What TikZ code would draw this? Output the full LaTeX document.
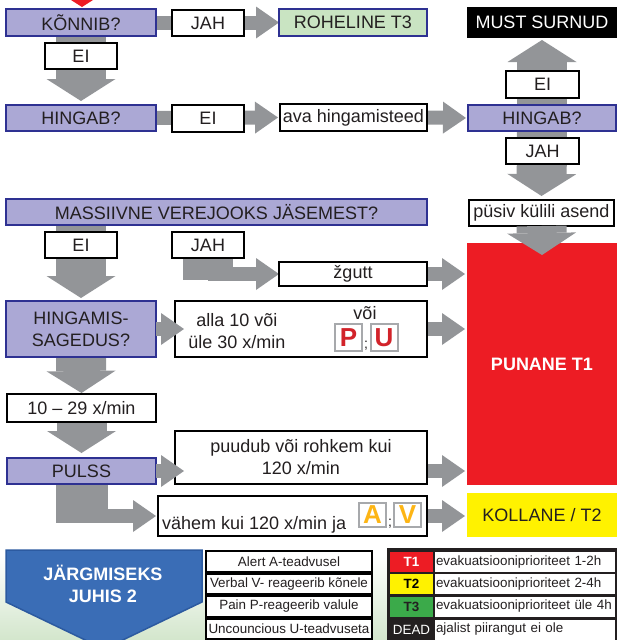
\documentclass[tikz,border=0pt]{standalone}
\usepackage{fontspec}
\setmainfont{Liberation Sans}
\usetikzlibrary{arrows.meta,calc}
\definecolor{lav}{HTML}{ABA8D5}
\definecolor{navy}{HTML}{2E3192}
\definecolor{agray}{HTML}{939598}
\definecolor{txt}{HTML}{231F20}
\definecolor{tred}{HTML}{ED1C24}
\definecolor{tyel}{HTML}{FFF200}
\definecolor{lgreen}{HTML}{C9E4C2}
\definecolor{tgreen}{HTML}{3BAA4A}
\definecolor{pblue}{HTML}{3A6DB6}
\definecolor{pborder}{HTML}{2C5AA0}
\definecolor{bggreen}{HTML}{D3E6CC}
\definecolor{letred}{HTML}{D2232A}
\definecolor{letorg}{HTML}{FDB515}
\definecolor{lgray}{HTML}{A7A9AC}
\pgfdeclarelayer{bg}
\pgfsetlayers{bg,main}
\begin{document}
\begin{tikzpicture}[x=1pt,y=-1pt,
 every node/.style={inner sep=0pt, outer sep=0pt, text=txt, font=\fontsize{18}{22}\selectfont},
 sz/.style 2 args={minimum width=#1pt, minimum height=#2pt},
 qbox/.style={draw=navy, fill=lav, line width=2pt},
 wbox/.style={draw=black, fill=white, line width=2pt},
 letbox/.style={draw=lgray, fill=white, line width=2pt, font=\fontsize{26}{26}\selectfont\bfseries},
 tcell/.style={draw=black, fill=white, line width=2pt, minimum width=166pt, minimum height=20.5pt, font=\fontsize{13.4}{15}\selectfont},
 ccell/.style={minimum width=43pt, minimum height=20pt, font=\fontsize{13.4}{15}\selectfont\bfseries},
 rcell/.style={fill=white, minimum height=20pt, text width=178pt, inner xsep=1pt, align=left, font=\fontsize{13.4}{15}\selectfont},
 harrow/.style={draw=agray, line width=14pt, -{Triangle[width=32pt,length=23pt,line width=0pt]}},
 varrow/.style={draw=agray, line width=50pt, -{Triangle[width=69pt,length=22pt,line width=0pt]}}
]
\useasboundingbox (0,0) rectangle (617,640);

% bottom background
\shade[top color=white, bottom color=bggreen] (0,555) rectangle (617,640);

% top incoming arrow tip
\fill[tred] (71,0) -- (93,0) -- (82,7) -- cycle;

% nodes
\node[qbox, sz={150}{27}] (konnib) at (81,22.5) {KÕNNIB?};
\node[wbox, sz={72}{26}] (jah1) at (208,23) {JAH};
\node[draw=navy, fill=lgreen, line width=2pt, sz={148}{27}] (roheline) at (353,22.5) {ROHELINE T3};
\node[fill=black, text=white, sz={150}{31}] (must) at (542,22.5) {MUST SURNUD};
\node[wbox, sz={72}{26}] (ei1) at (81,56) {EI};
\node[qbox, sz={150}{26}] (hingab) at (81,118) {HINGAB?};
\node[wbox, sz={72}{27}] (ei2) at (208,118) {EI};
\node[wbox, sz={147}{27}] (ava) at (353.5,117.5) {ava hingamisteed};
\node[qbox, sz={148}{26}] (hingabR) at (542,118) {HINGAB?};
\node[wbox, sz={73}{27}] (eiR) at (542.5,84.5) {EI};
\node[wbox, sz={73}{26}] (jahR) at (542.5,151) {JAH};
\node[wbox, sz={145}{26}] (pusiv) at (541.5,213) {püsiv külili asend};
\node[qbox, sz={421}{26}] (mass) at (216.5,212) {MASSIIVNE VEREJOOKS JÄSEMEST?};
\node[wbox, sz={72}{26}] (ei3) at (81,245) {EI};
\node[wbox, sz={72}{26}] (jah3) at (208,245) {JAH};
\node[wbox, sz={148}{24}] (zgutt) at (353,274) {žgutt};
\node[fill=tred, text=white, font=\fontsize{18}{22}\selectfont\bfseries, sz={150}{242}] (punane) at (542,364) {PUNANE T1};
\node[qbox, sz={150}{56}, align=center] (sag) at (81,329) {HINGAMIS-\\SAGEDUS?};
\node[wbox, sz={252}{56}] (alla) at (301,329) {};
\node[align=center] (allat) at (237,331) {alla 10 või\\üle 30 x/min};
\node (voi) at (365,313) {või};
\node[letbox, text=letred, sz={27}{27}] (P) at (348.5,337.5) {P};
\node[font=\fontsize{14}{14}\selectfont] (semi1) at (366,346) {;};
\node[letbox, text=letred, sz={27}{27}] (U) at (384,337.5) {U};
\node[wbox, sz={149}{28}] (range) at (81.5,408) {10 – 29 x/min};
\node[qbox, sz={149}{26}] (pulss) at (81.5,471) {PULSS};
\node[wbox, sz={252}{53}, align=center] (puudub) at (301,457.5) {puudub või rohkem kui\\120 x/min};
\node[wbox, sz={269}{40}] (vahem) at (292.5,516) {};
\node[anchor=base west] (vahemt) at (162,529) {vähem kui 120 x/min ja};
\node[letbox, text=letorg, sz={27}{24}] (A) at (372.5,515) {A};
\node[font=\fontsize{14}{14}\selectfont] (semi2) at (390,524) {;};
\node[letbox, text=letorg, sz={27}{24}] (V) at (407.5,515) {V};
\node[fill=tyel, sz={150}{44}] (kollane) at (542,515) {KOLLANE / T2};

% bottom: next instruction
\path[fill=pblue, draw=pborder, line width=1.5pt] (6,550) -- (202,550) -- (202,602) -- (104,649) -- (6,602) -- cycle;
\node[text=white, font=\fontsize{18}{22}\selectfont\bfseries, align=center] (juhis) at (103,584) {JÄRGMISEKS\\JUHIS 2};

% AVPU table
\node[tcell] (a1) at (289,561.25) {Alert A-teadvusel};
\node[tcell] (a2) at (289,583.75) {Verbal V- reageerib kõnele};
\node[tcell] (a3) at (289,606.25) {Pain P-reageerib valule};
\node[tcell] (a4) at (289,628.75) {Uncouncious U-teadvuseta};

% priority table
\node[fill=txt, anchor=north west, minimum width=230pt, minimum height=92pt] (tab2) at (387,548) {};
\node[ccell, fill=tred, text=white] (t1) at (411.5,562) {T1};
\node[ccell, fill=tyel, text=black] (t2) at (411.5,584) {T2};
\node[ccell, fill=tgreen, text=txt] (t3) at (411.5,606.5) {T3};
\node[ccell, fill=txt, text=white, font=\fontsize{13.4}{15}\selectfont] (t4) at (411.5,629.5) {DEAD};
\node[rcell] (r1) at (525,562) {evakuatsiooniprioriteet 1-2h};
\node[rcell] (r2) at (525,584) {evakuatsiooniprioriteet 2-4h};
\node[rcell] (r3) at (525,606.5) {evakuatsiooniprioriteet üle 4h};
\node[rcell] (r4) at (525,629.5) {ajalist piirangut ei ole};

% connectors behind boxes
\begin{pgfonlayer}{bg}
\draw[harrow] (konnib.east) -- (roheline.west);
\draw[varrow, shorten >=4pt] (konnib.south) -- (hingab.north);
\draw[harrow, shorten >=2pt] (hingab.east) -- (ava.west);
\draw[harrow, shorten >=2pt] (ava.east) -- (hingabR.west);
\draw[varrow, shorten >=2pt] (hingabR.north) -- (must.south);
\draw[varrow, shorten >=4pt] (hingabR.south) -- (pusiv.north);
\draw[varrow, shorten >=3pt] (ei3 |- mass.south) -- (sag.north);
\fill[agray] (jah3.south) +(-25,0) rectangle +(25,22);
\draw[harrow] (jah3.south |- zgutt.west) -- (zgutt.west);
\draw[harrow, shorten >=2pt] (zgutt.east) -- (zgutt.east -| punane.west);
\draw[harrow, shorten >=2pt] (alla.east) -- (alla.east -| punane.west);
\draw[varrow, shorten >=1pt] (sag.south) -- (range.north);
\draw[varrow, shorten >=5pt] (range.south) -- (pulss.north);
\draw[harrow, shorten >=2pt] (pulss.east -| puudub.east) -- (pulss.east -| punane.west);
\fill[agray] (pulss.south) +(-26,0) rectangle +(26,39);
\draw[harrow] (pulss.south |- vahem.west) -- ([xshift=-2pt]vahem.west);
\draw[harrow, shorten >=2pt] (vahem.east) -- (vahem.east -| kollane.west);
\end{pgfonlayer}

% connectors whose heads overlap boxes
\draw[varrow] (pusiv.south) -- ([yshift=-12pt]punane.north);
\draw[harrow] (sag.east) -- ([xshift=9pt]alla.west);
\draw[harrow] (pulss.east) -- ($(pulss.east -| puudub.west)+(9,0)$);
\end{tikzpicture}
\end{document}
